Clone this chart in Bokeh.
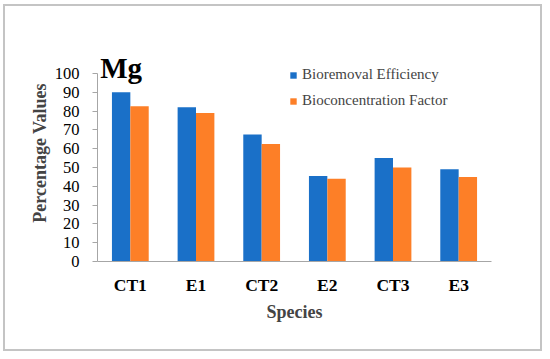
from bokeh.plotting import figure
from bokeh.models import FactorRange, Range1d, Legend, LegendItem, Label, ColumnDataSource
from bokeh.transform import dodge
from bokeh.embed import file_html
from bokeh.resources import INLINE

species = ["CT1", "E1", "CT2", "E2", "CT3", "E3"]
bioremoval = [90, 82, 67.5, 45.5, 55, 49]
bioconc = [82.5, 79, 62.5, 44, 50, 45]
y_ticks = list(range(0, 101, 10))

FONT = "'Liberation Serif', 'Times New Roman', serif"
BLUE = "#1a70c8"
ORANGE = "#fd7f27"
AXIS = "#a6a6a6"

src = ColumnDataSource(dict(species=species, br=bioremoval, bc=bioconc))

p = figure(x_range=FactorRange(*species), y_range=Range1d(0, 115.4),
           width=539, height=347,
           min_border_left=92, min_border_right=53, min_border_top=38, min_border_bottom=92,
           output_backend="svg", toolbar_location=None)
p.styles = {"border": "2px solid #c4c4c4", "margin-left": "3px", "margin-top": "4px"}

r1 = p.vbar(x=dodge("species", -0.14, range=p.x_range), top="br", width=0.28, source=src,
            fill_color=BLUE, line_color=None)
r2 = p.vbar(x=dodge("species", 0.14, range=p.x_range), top="bc", width=0.28, source=src,
            fill_color=ORANGE, line_color=None)

p.xgrid.visible = False
p.ygrid.visible = False
p.outline_line_color = None

p.yaxis.ticker = y_ticks
p.yaxis.bounds = (0, 100)
p.yaxis.minor_tick_line_color = None
p.yaxis.major_tick_in = 0
p.yaxis.major_tick_out = 5
p.yaxis.major_label_standoff = 13
p.yaxis.major_label_text_font = FONT
p.yaxis.major_label_text_font_size = "16.5px"
p.yaxis.major_label_text_color = "black"
p.yaxis.axis_label = "Percentage Values"
p.yaxis.axis_label_text_font = FONT
p.yaxis.axis_label_text_font_style = "bold"
p.yaxis.axis_label_text_font_size = "18px"
p.yaxis.axis_label_standoff = 2

p.xaxis.major_tick_in = 0
p.xaxis.major_tick_out = 0
p.xaxis.major_label_standoff = 13
p.xaxis.major_label_text_font = FONT
p.xaxis.major_label_text_font_style = "bold"
p.xaxis.major_label_text_font_size = "17.5px"
p.xaxis.major_label_text_color = "black"
p.xaxis.axis_label = "Species"
p.xaxis.axis_label_text_font = FONT
p.xaxis.axis_label_text_font_style = "bold"
p.xaxis.axis_label_text_font_size = "18px"
p.xaxis.axis_label_standoff = 4

for ax in (p.xaxis, p.yaxis):
    ax.axis_line_color = AXIS
    ax.major_tick_line_color = AXIS

p.add_layout(Label(x=0.04, y=102.7, text="Mg", text_font=FONT, text_font_style="bold",
                   text_font_size="29px", text_baseline="alphabetic", text_color="black"))

legend = Legend(items=[LegendItem(label="Bioremoval Efficiency", renderers=[r1]),
                       LegendItem(label="Bioconcentration Factor", renderers=[r2])],
                location=(192, 152), padding=0, margin=0, spacing=9,
                glyph_width=8, glyph_height=8, label_height=16, label_standoff=5,
                label_text_font=FONT, label_text_font_size="15px",
                border_line_color=None, background_fill_alpha=0)
p.add_layout(legend)

open("out.html", "w").write(file_html(p, INLINE))
